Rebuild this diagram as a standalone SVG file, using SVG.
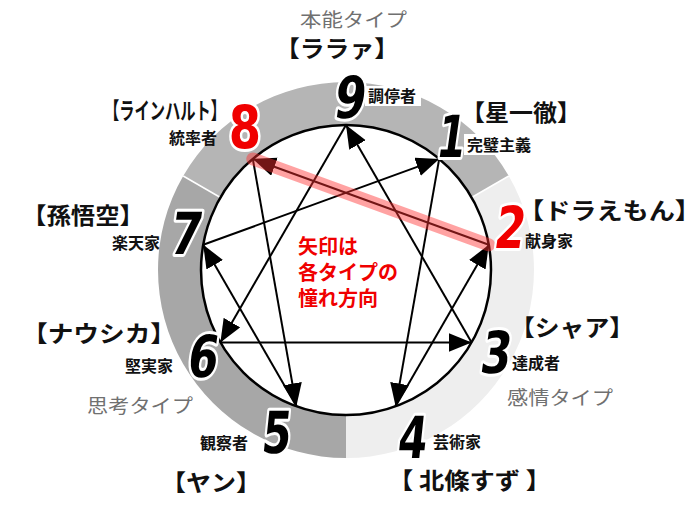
<svg xmlns="http://www.w3.org/2000/svg" width="690" height="508" viewBox="0 0 690 508">
<defs>
<marker id="ah" markerUnits="userSpaceOnUse" markerWidth="25" markerHeight="20" refX="23" refY="9.5" orient="auto">
<path d="M0,0 L23,9.5 L0,19 Z" fill="#000"/>
</marker>
<style>
.jp{font-family:"Noto Sans CJK JP","Noto Sans CJK SC",sans-serif}
.br{font-size:23px;font-weight:bold;fill:#111}
.lb{font-size:16px;font-weight:bold;fill:#111}
.ty{font-size:19px;fill:#707070}
.num{font-family:"DejaVu Sans","Liberation Sans",sans-serif;font-weight:bold;font-size:58px;fill:#000;stroke:#fff;stroke-width:6px;stroke-linejoin:round;paint-order:stroke;text-anchor:middle}
.red{fill:#f00000}
.ln{stroke:#000;stroke-width:2;fill:none;marker-end:url(#ah)}
</style>
</defs>
<rect width="690" height="508" fill="#fff"/>
<g id="ring">
<path d="M183.2,176 A188,188 0 0 1 508.8,176 L471.6,197.5 A145,145 0 0 0 220.4,197.5 Z" fill="#b5b5b5"/>
<path d="M508.8,176 A188,188 0 0 1 346,458 L346,415 A145,145 0 0 0 471.6,197.5 Z" fill="#eeeeee"/>
<path d="M346,458 A188,188 0 0 1 183.2,176 L220.4,197.5 A145,145 0 0 0 346,415 Z" fill="#a7a7a7"/>
<line x1="183.2" y1="176" x2="220.4" y2="197.5" stroke="#fff" stroke-width="1.5"/>
<line x1="508.8" y1="176" x2="471.6" y2="197.5" stroke="#fff" stroke-width="1.5"/>
<circle cx="346" cy="270" r="145" fill="#fff" stroke="#000" stroke-width="2.5"/>
</g>
<g id="connectors">
<path class="ln" d="M471.6,342.5 L346,125"/>
<path class="ln" d="M346,125 L220.4,342.5"/>
<path class="ln" d="M220.4,342.5 L471.6,342.5"/>
<path class="ln" d="M439.2,158.9 L395.6,406.3"/>
<path class="ln" d="M395.6,406.3 L488.8,244.8"/>
<path class="ln" d="M488.8,244.8 L252.8,158.9"/>
<path class="ln" d="M252.8,158.9 L296.4,406.3"/>
<path class="ln" d="M296.4,406.3 L203.2,244.8"/>
<path class="ln" d="M203.2,244.8 L439.2,158.9"/>
<line x1="488.8" y1="244.8" x2="252.8" y2="158.9" stroke="#ff3030" stroke-opacity="0.45" stroke-width="13" stroke-linecap="round"/>
</g>
<g id="type-labels" class="jp ty">
<text x="300" y="27" textLength="107" lengthAdjust="spacingAndGlyphs">本能タイプ</text>
<text x="87" y="413" textLength="106" lengthAdjust="spacingAndGlyphs">思考タイプ</text>
<text x="507" y="405" textLength="106" lengthAdjust="spacingAndGlyphs">感情タイプ</text>
</g>
<g id="node9">
<text class="jp br" x="275" y="57" textLength="124" lengthAdjust="spacingAndGlyphs">【ララァ】</text>
<rect x="365" y="86" width="56" height="20" fill="#fff"/>
<text class="jp lb" x="368" y="102">調停者</text>
<text class="num" transform="translate(348,118) skewX(-8) scale(0.78,1)">9</text>
</g>
<g id="node1">
<text class="jp br" x="461" y="121" font-size="25" textLength="120" lengthAdjust="spacingAndGlyphs">【星一徹】</text>
<rect x="464" y="134" width="74" height="21" fill="#fff"/>
<text class="jp lb" x="467" y="151" font-size="17">完璧主義</text>
<text class="num" transform="translate(449,157) skewX(-8) scale(0.7,1)" font-size="61">1</text>
</g>
<g id="node8">
<text class="jp br" x="104" y="119" font-size="22" textLength="122" lengthAdjust="spacingAndGlyphs">【ラインハルト】</text>
<text class="jp lb" x="169" y="144">統率者</text>
<text class="num red" transform="translate(245,148) scale(0.8,1)" font-size="50">8</text>
</g>
<g id="node2">
<text class="jp br" x="518" y="219" textLength="183" lengthAdjust="spacingAndGlyphs">【ドラえもん】</text>
<text class="jp lb" x="525" y="247" font-size="17">献身家</text>
<text class="num red" transform="translate(508,248) skewX(-8) scale(0.75,1)" font-size="57">2</text>
</g>
<g id="node7">
<text class="jp br" x="22" y="224" textLength="122" lengthAdjust="spacingAndGlyphs">【孫悟空】</text>
<text class="jp lb" x="112" y="249" font-size="17">楽天家</text>
<text class="num" transform="translate(184,254) skewX(-8) scale(0.78,1)" font-size="60">7</text>
</g>
<g id="node3">
<text class="jp br" x="510" y="336" font-size="22" textLength="124" lengthAdjust="spacingAndGlyphs">【シャア】</text>
<text class="jp lb" x="512" y="369" font-size="17">達成者</text>
<text class="num" transform="translate(494,373) skewX(-8) scale(0.75,1)">3</text>
</g>
<g id="node6">
<text class="jp br" x="22" y="342" textLength="154" lengthAdjust="spacingAndGlyphs">【ナウシカ】</text>
<text class="jp lb" x="125" y="372" font-size="17">堅実家</text>
<text class="num" transform="translate(201,377) skewX(-8) scale(0.75,1)" font-size="60">6</text>
</g>
<g id="node5">
<text class="jp lb" x="200" y="449">観察者</text>
<text class="num" transform="translate(275,453) skewX(-6) scale(0.72,1)" font-size="61">5</text>
<text class="jp br" x="161" y="491" font-size="24" textLength="100" lengthAdjust="spacingAndGlyphs">【ヤン】</text>
</g>
<g id="node4">
<text class="jp lb" x="433" y="448">芸術家</text>
<text class="num" transform="translate(411,458) skewX(-6) scale(0.72,1)" font-size="60">4</text>
<text class="jp br" x="388" y="489" textLength="163" lengthAdjust="spacingAndGlyphs">【 北條すず 】</text>
</g>
<g id="note" class="jp" font-size="20" fill="#f00000" font-weight="bold">
<text x="298" y="254">矢印は</text>
<text x="298" y="280">各タイプの</text>
<text x="298" y="306">憧れ方向</text>
</g>
</svg>
